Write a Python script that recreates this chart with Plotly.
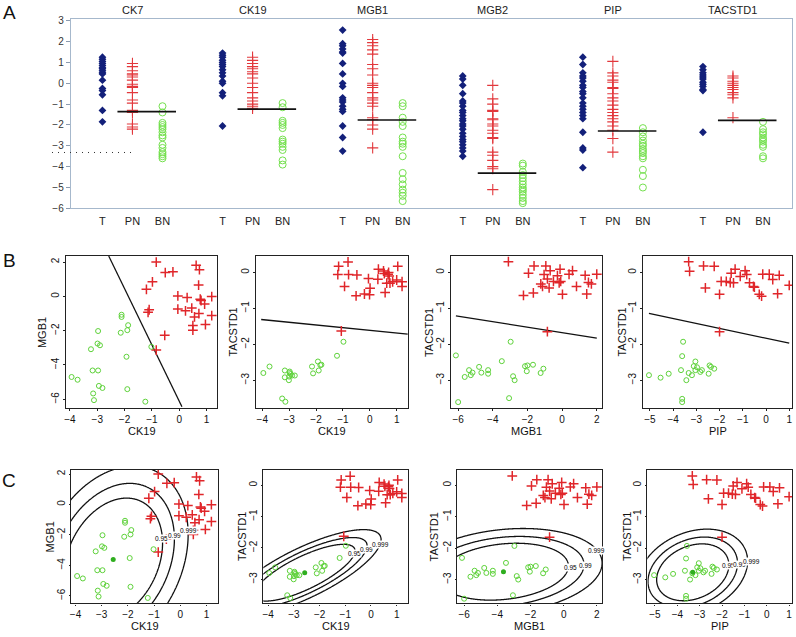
import numpy as np
import plotly.graph_objects as go

W, H = 796, 637

# ---------------- panel A: marker levels per gene and group ----------------
genes = ["CK7", "CK19", "MGB1", "MGB2", "PIP", "TACSTD1"]
groups = ["T", "PN", "BN"]

ck7_t = [1.25, 1.15, 1.05, 0.95, 0.85, 0.75, 0.7, 0.6, 0.5, 0.45, 0.15, -0.25, -0.35, -0.55, -1.3, -1.85]
ck7_pn = [0.95, 0.8, 0.6, 0.45, 0.4, 0.3, 0.15, -0.05, -0.15, -0.2, -0.45, -0.8, -0.95, -1.3, -1.4, -1.95, -2.1, -2.2]
ck7_bn = [-1.1, -1.4, -1.9, -2.0, -2.1, -2.2, -2.35, -2.5, -2.6, -2.95, -3.1, -3.3, -3.4, -3.5, -3.6]

ck19_t = [1.45, 1.35, 1.25, 1.1, 1.0, 0.9, 0.8, 0.65, 0.5, 0.35, 0.1, 0.0, -0.45, -0.6, -2.05]
ck19_pn = [1.25, 1.1, 0.95, 0.8, 0.7, 0.55, 0.45, 0.25, 0.0, -0.2, -0.45, -0.7, -0.85, -1.0, -1.1, -1.2]
ck19_bn = [-0.95, -1.15, -1.8, -1.9, -2.0, -2.15, -2.7, -2.8, -2.9, -3.05, -3.2, -3.7, -3.9]

mgb1_t = [2.55, 1.9, 1.8, 1.65, 1.5, 1.45, 0.95, 0.45, 0.0, -0.15, -0.7, -0.8, -0.9, -1.1, -1.25, -1.35, -2.05, -2.6, -3.25]
mgb1_pn = [2.1, 1.95, 1.8, 1.6, 1.4, 0.9, 0.7, 0.4, 0.0, -0.1, -0.2, -0.45, -0.7, -0.8, -0.95, -1.1, -1.65, -1.75, -2.0, -2.2, -3.1]
mgb1_bn = [-0.95, -1.1, -1.65, -1.85, -2.05, -2.6, -2.8, -2.9, -3.05, -3.5, -4.3, -4.6, -4.85, -5.1, -5.25, -5.4, -5.65]

mgb2_t = [0.35, 0.2, -0.1, -0.5, -0.85, -0.95, -1.1, -1.3, -1.4, -1.55, -1.7, -1.8, -1.95, -2.05, -2.2, -2.4, -2.55, -2.7, -2.8, -2.95, -3.1, -3.25, -3.5]
mgb2_pn = [-0.1, -0.75, -1.0, -1.3, -1.35, -1.7, -1.75, -1.95, -2.05, -2.25, -2.4, -2.6, -2.65, -3.3, -3.45, -3.7, -4.0, -4.1, -5.1]
mgb2_bn = [-3.85, -3.95, -4.25, -4.4, -4.55, -4.7, -4.85, -5.0, -5.1, -5.2, -5.35, -5.5, -5.65, -5.75]

pip_t = [1.25, 0.9, 0.5, 0.35, 0.25, 0.1, -0.1, -0.2, -0.4, -0.5, -0.7, -0.95, -1.1, -1.25, -1.4, -1.55, -1.7, -2.35, -3.1, -3.2, -4.05]
pip_pn = [1.05, 0.5, 0.35, 0.15, 0.05, -0.2, -0.25, -0.5, -0.7, -0.85, -1.05, -1.25, -1.4, -1.55, -1.7, -1.85, -2.05, -2.25, -2.65, -3.3]
pip_bn = [-2.15, -2.35, -2.55, -2.75, -2.9, -3.0, -3.15, -3.25, -3.35, -3.5, -3.6, -4.15, -4.45, -5.0]

tacstd1_t = [0.8, 0.65, 0.5, 0.4, 0.3, 0.2, 0.05, -0.05, -0.15, -0.3, -0.35, -2.35]
tacstd1_pn = [0.35, 0.25, 0.1, 0.0, -0.1, -0.2, -0.3, -0.45, -0.55, -0.7, -1.65]
tacstd1_bn = [-1.85, -2.2, -2.35, -2.45, -2.6, -2.7, -2.8, -2.95, -3.05, -3.5, -3.6]

thresholds = [-1.36, -1.24, -1.76, -4.31, -2.29, -1.78]
dotted_level = -3.32          # faint dotted mark at the left of CK7
dotted_span = [-1.68, 1.04]   # in category-position units

a_series = {
    "CK7": (ck7_t, ck7_pn, ck7_bn),
    "CK19": (ck19_t, ck19_pn, ck19_bn),
    "MGB1": (mgb1_t, mgb1_pn, mgb1_bn),
    "MGB2": (mgb2_t, mgb2_pn, mgb2_bn),
    "PIP": (pip_t, pip_pn, pip_bn),
    "TACSTD1": (tacstd1_t, tacstd1_pn, tacstd1_bn),
}

# ---------------- panels B / C: pairs of markers ----------------
pair_labels = [("CK19", "MGB1"), ("CK19", "TACSTD1"), ("MGB1", "TACSTD1"), ("PIP", "TACSTD1")]

p1_pn_x = [-0.84, 0.62, 0.74, -0.51, -0.23, -0.98, -1.2, 0.71, -0.05, 0.29, 0.77, 0.8, 1.19, 0.93, -0.05, 0.23, 0.46, -1.1, -1.14, 0.72, 0.56, 1.19, 0.5, 0.5, 0.96, -0.53, -0.84]
p1_pn_y = [2.0, 1.81, 1.56, 1.39, 1.43, 0.85, 0.41, 0.66, 0.03, -0.07, -0.16, -0.24, -0.01, -0.45, -0.74, -0.84, -0.68, -0.78, -0.93, -1.0, -1.2, -1.12, -1.7, -1.97, -1.64, -2.27, -3.13]
p1_bn_x = [-3.94, -3.72, -3.23, -3.17, -2.97, -3.15, -3.12, -2.97, -2.99, -2.9, -2.94, -2.81, -2.11, -2.11, -2.14, -1.9, -1.87, -1.93, -1.9, -1.02, -1.24]
p1_bn_y = [-4.7, -4.86, -3.08, -4.32, -4.32, -5.66, -6.05, -2.02, -2.75, -2.85, -5.22, -5.34, -1.07, -1.2, -2.12, -1.97, -1.68, -3.52, -5.41, -2.94, -6.14]

p2_pn_x = [-1.16, -0.81, -1.19, -0.79, -0.48, -0.94, -0.51, -0.2, -0.01, 0.01, -0.05, 0.32, 0.51, 0.54, 0.68, 1.04, 0.3, 0.63, 0.75, 0.85, 1.0, 0.57, -1.06, 1.2, 1.2, 0.72, 0.7]
p2_pn_y = [0.17, 0.29, -0.06, -0.06, -0.07, -0.39, -0.65, -0.6, -0.62, -0.44, -0.17, 0.09, 0.04, -0.03, -0.05, 0.17, -0.19, -0.3, -0.3, -0.26, -0.21, -0.56, -1.63, -0.26, -0.39, -0.1, 0.0]
p2_bn_x = [-3.96, -3.73, -3.16, -3.16, -3.01, -2.98, -2.94, -2.89, -2.79, -3.26, -3.14, -2.15, -2.11, -1.93, -1.9, -1.84, -1.8, -1.22, -0.98, -2.98, -3.0]
p2_bn_y = [-2.8, -2.62, -2.73, -2.92, -3.0, -2.76, -2.83, -2.87, -2.87, -3.51, -3.6, -2.62, -2.81, -2.48, -2.73, -2.58, -2.57, -2.32, -1.93, -2.8, -2.9]

p3_pn_x = [-3.1, -1.94, -1.62, -0.94, -0.69, -1.04, -0.85, -1.23, -1.13, -0.75, -0.5, -0.27, -0.17, -0.08, -0.12, 0.02, 0.4, 0.6, 0.83, 1.33, 1.42, 1.52, 1.69, 2.0, -2.23, -1.66, -0.85]
p3_pn_y = [0.3, -0.02, 0.18, 0.18, 0.05, -0.06, -0.18, -0.32, -0.39, -0.43, -0.25, -0.09, -0.29, -0.25, 0.09, -0.61, -0.05, 0.05, -0.39, -0.08, -0.6, -0.28, -0.32, -0.05, -0.64, -0.57, -1.65]
p3_bn_x = [-6.13, -6.0, -5.62, -5.37, -5.27, -5.17, -4.79, -4.66, -4.27, -4.27, -3.48, -2.97, -3.06, -2.83, -2.74, -2.14, -2.0, -2.04, -1.68, -1.24, -1.08]
p3_bn_y = [-2.31, -3.61, -2.91, -2.72, -2.86, -2.79, -2.63, -2.79, -2.72, -2.82, -2.47, -1.93, -3.5, -2.89, -3.0, -2.61, -2.59, -2.75, -2.57, -2.8, -2.68]

p4_pn_x = [-3.33, -3.29, -2.69, -2.23, -2.61, -2.0, -1.93, -1.71, -1.54, -1.4, -1.5, -1.33, -1.11, -0.9, -0.83, -0.71, -0.54, -0.5, -0.29, -0.19, -0.14, 0.14, 0.29, 0.5, 0.57, 1.0, -2.0]
p4_pn_y = [0.3, 0.03, 0.18, 0.17, -0.43, -0.61, -0.25, -0.25, -0.28, -0.29, -0.02, 0.09, -0.11, 0.05, -0.06, -0.29, -0.39, -0.41, -0.61, -0.66, -0.05, -0.05, -0.2, -0.59, -0.08, -0.36, -1.65]
p4_bn_x = [-5.04, -4.54, -4.19, -3.66, -3.57, -3.61, -3.61, -3.61, -3.43, -3.33, -3.19, -3.11, -3.04, -3.04, -2.97, -2.83, -2.76, -2.47, -2.43, -2.37, -2.23]
p4_bn_y = [-2.86, -2.93, -2.82, -2.72, -1.93, -2.33, -3.52, -3.61, -3.0, -2.8, -2.86, -2.61, -2.72, -2.48, -2.64, -2.77, -2.72, -2.82, -2.59, -2.63, -2.68]

# linear boundaries (panel B), endpoints
b_line_x = [[-2.58, 0.1], [-4.04, 1.41], [-6.13, 2.0], [-5.04, 1.0]]
b_line_y = [[2.35, -6.43], [-1.31, -1.72], [-1.21, -1.83], [-1.14, -1.97]]

# BN class ellipse parameters (panel C): mean, sd and correlation
bn_center = [(-2.56, -3.62), (-2.58, -2.79), (-3.63, -2.75), (-3.31, -2.77)]
bn_sd = [(0.77, 1.65), (0.8, 0.37), (1.6, 0.37), (0.66, 0.37)]
bn_rho = [0.27, 0.77, 0.2, 0.26]
levels = [0.95, 0.99, 0.999]
level_text = ["0.95", "0.99", "0.999"]
label_pos = [
    [(-0.72, -2.22), (-0.21, -2.07), (0.32, -1.68)],
    [(-0.65, -2.18), (-0.16, -2.05), (0.38, -1.89)],
    [(0.39, -2.61), (1.33, -2.54), (2.0, -2.09)],
    [(-1.73, -2.56), (-1.2, -2.53), (-0.66, -2.44)],
]

pn_x = [p1_pn_x, p2_pn_x, p3_pn_x, p4_pn_x]
pn_y = [p1_pn_y, p2_pn_y, p3_pn_y, p4_pn_y]
bn_x = [p1_bn_x, p2_bn_x, p3_bn_x, p4_bn_x]
bn_y = [p1_bn_y, p2_bn_y, p3_bn_y, p4_bn_y]

x_ticks = [[-4, -3, -2, -1, 0, 1], [-4, -3, -2, -1, 0, 1], [-6, -4, -2, 0, 2], [-5, -4, -3, -2, -1, 0, 1]]
y_ticks = [[2, 0, -2, -4, -6], [0, -1, -2, -3], [0, -1, -2, -3], [0, -1, -2, -3]]

# ---------------- layout geometry (pixels) ----------------
def dx(a, b):
    return [a / W, b / W]

def dy(top, bot):
    return [1 - bot / H, 1 - top / H]

A_X0, A_DX = 100.7, 30.1          # pixel of position 0, pixels per position
A_LEFT, A_RIGHT, A_TOP, A_BOT = 69, 792, 15.7, 207.3

b_box = [(64, 216), (255, 407), (450, 602), (643, 792)]
c_box = [(69, 217), (262, 407), (456, 602), (647, 792)]
B_TOP, B_BOT = 255.7, 410
C_TOP, C_BOT = 472.3, 608
b_xr = [[-4.15, 1.4], [-4.22, 1.42], [-6.42, 2.33], [-5.28, 1.12]]
b_yr = [[-6.52, 2.35], [-3.78, 0.455], [-3.78, 0.455], [-3.78, 0.455]]
c_xr = [[-4.18, 1.46], [-4.19, 1.44], [-6.44, 2.34], [-5.34, 1.13]]
c_yr = [[-6.5, 2.29], [-3.77, 0.5], [-3.76, 0.5], [-3.76, 0.5]]

NAVY = "#13207a"
RED_A = "#e2383c"
GREEN_A = "#74e04e"
RED = "#e0262a"
GREEN = "#5ed23a"
FONT = "Liberation Sans, Arial, sans-serif"

fig = go.Figure()

# ---- panel A traces
for g, gene in enumerate(genes):
    t, pn, bn = a_series[gene]
    base = g * 4
    fig.add_trace(go.Scatter(x=[base] * len(t), y=t, mode="markers",
                             marker=dict(symbol="diamond", size=6, color=NAVY)))
    fig.add_trace(go.Scatter(x=[base + 1] * len(pn), y=pn, mode="markers",
                             marker=dict(symbol="cross-thin", size=8, color=RED_A,
                                         line=dict(width=1.1, color=RED_A))))
    fig.add_trace(go.Scatter(x=[base + 2] * len(bn), y=bn, mode="markers",
                             marker=dict(symbol="circle-open", size=7, color=GREEN_A,
                                         line=dict(width=1, color=GREEN_A))))

seg_x, seg_y = [], []
for g, t in enumerate(thresholds):
    seg_x += [g * 4 + 0.5, g * 4 + 2.45, None]
    seg_y += [t, t, None]
fig.add_trace(go.Scatter(x=seg_x, y=seg_y, mode="lines", line=dict(color="#111111", width=1.6)))

fig.add_trace(go.Scatter(x=dotted_span, y=[dotted_level] * 2, mode="lines", xaxis="x10", yaxis="y",
                         line=dict(color="#333333", width=1, dash="1px,5px")))

# ---- panels B and C
for i in range(4):
    xb, yb = f"x{i + 2}", f"y{i + 2}"
    xc, yc = f"x{i + 6}", f"y{i + 6}"
    fig.add_trace(go.Scatter(x=b_line_x[i], y=b_line_y[i], mode="lines", xaxis=xb, yaxis=yb,
                             line=dict(color="#111111", width=1.3)))
    # contours of the BN class model
    cx, cy = bn_center[i]
    sx, sy = bn_sd[i]
    r = bn_rho[i]
    gx = np.linspace(c_xr[i][0] - 0.5, c_xr[i][1] + 0.5, 260)
    gy = np.linspace(c_yr[i][0] - 0.5, c_yr[i][1] + 0.5, 260)
    X, Y = np.meshgrid(gx, gy)
    u, v = (X - cx) / sx, (Y - cy) / sy
    d2 = (u * u - 2 * r * u * v + v * v) / (1 - r * r)
    for lev in levels:
        q = -2 * np.log(1 - lev)
        fig.add_trace(go.Contour(x=gx, y=gy, z=d2, xaxis=xc, yaxis=yc, showscale=False,
                                 autocontour=False,
                                 contours=dict(start=q, end=q + 1e-3, size=1, coloring="lines"),
                                 colorscale=[[0, "#111111"], [1, "#111111"]],
                                 line=dict(width=1.3), hoverinfo="skip"))
    for xa, ya in ((xb, yb), (xc, yc)):
        fig.add_trace(go.Scatter(x=pn_x[i], y=pn_y[i], mode="markers", xaxis=xa, yaxis=ya,
                                 marker=dict(symbol="cross-thin", size=7, color=RED,
                                             line=dict(width=1.5, color=RED))))
        fig.add_trace(go.Scatter(x=bn_x[i], y=bn_y[i], mode="markers", xaxis=xa, yaxis=ya,
                                 marker=dict(symbol="circle-open", size=5, color=GREEN,
                                             line=dict(width=1, color=GREEN))))
    fig.add_trace(go.Scatter(x=[cx], y=[cy], mode="markers", xaxis=xc, yaxis=yc,
                             marker=dict(symbol="circle", size=5, color="#2fae1f")))

# ---------------- axes ----------------
A_LINE = "#a6b8cc"
layout = dict(
    width=W, height=H, margin=dict(l=0, r=0, t=0, b=0),
    paper_bgcolor="white", plot_bgcolor="rgba(0,0,0,0)",
    showlegend=False, font=dict(family=FONT, color="#111111"),
)
a_range_x = [(A_LEFT - A_X0) / A_DX, (A_RIGHT - A_X0) / A_DX]
layout["xaxis"] = dict(domain=dx(A_LEFT, A_RIGHT), range=a_range_x, anchor="y",
                       tickvals=[g * 4 + k for g in range(6) for k in range(3)],
                       ticktext=groups * 6, ticks="outside", ticklen=2, tickcolor="rgba(0,0,0,0)",
                       tickfont=dict(size=11, color="#222222"),
                       showline=True, linecolor=A_LINE, linewidth=1.2, mirror=True,
                       showgrid=False, zeroline=False)
layout["yaxis"] = dict(domain=dy(A_TOP, A_BOT), range=[-6, 3.06], anchor="x",
                       tickvals=list(range(-6, 4)), ticks="outside", ticklen=4, tickcolor="#8a9bb0",
                       tickfont=dict(size=10, color="#333333"),
                       showline=True, linecolor=A_LINE, linewidth=1.2, mirror=True,
                       showgrid=False, zeroline=False)
layout["xaxis10"] = dict(domain=dx(45, A_RIGHT), range=[(45 - A_X0) / A_DX, a_range_x[1]],
                         anchor="y", visible=False)

box_style = dict(showline=True, linecolor="#222222", linewidth=1.3, mirror=True,
                 showgrid=False, zeroline=False, tickcolor="#222222",
                 tickfont=dict(size=10, color="#111111"))
for i in range(4):
    for row, (boxes, xr, yr, top, bot, ticklen) in enumerate(
            [(b_box, b_xr, b_yr, B_TOP, B_BOT, 2), (c_box, c_xr, c_yr, C_TOP, C_BOT, 1)]):
        n = i + 2 + 4 * row
        layout[f"xaxis{n}"] = dict(domain=dx(*boxes[i]), range=xr[i], anchor=f"y{n}",
                                   tickvals=x_ticks[i], ticks="outside", ticklen=ticklen, **box_style)
        layout[f"yaxis{n}"] = dict(domain=dy(top, bot), range=yr[i], anchor=f"x{n}",
                                   tickvals=y_ticks[i], ticks="outside", ticklen=ticklen,
                                   tickangle=-90, **box_style)

fig.update_layout(**layout)

# ---------------- text ----------------
ann = []
for g, gene in enumerate(genes):
    ann.append(dict(text=gene, x=g * 4 + 1, xref="x", y=1 - 6 / H, yref="paper",
                    xanchor="center", yanchor="middle",
                    showarrow=False, font=dict(size=11, color="#222222")))
for letter, ypx in (("A", 9), ("B", 260), ("C", 483.5)):
    ann.append(dict(text=letter, x=7.5 / W, y=1 - ypx / H, xref="paper", yref="paper",
                    xanchor="center", yanchor="middle",
                    showarrow=False, font=dict(size=19, color="#111111")))

b_ytitle_x = [40, 232, 428, 622]
c_ytitle_x = [48, 240, 433, 626]
for i, (xl, yl) in enumerate(pair_labels):
    for boxes, top, bot, xt_y, yt_x in ((b_box, B_TOP, B_BOT, 433, b_ytitle_x[i]),
                                        (c_box, C_TOP, C_BOT, 631, c_ytitle_x[i])):
        l, r = boxes[i]
        ann.append(dict(text=xl, x=(l + r) / 2 / W, y=1 - xt_y / H, xref="paper", yref="paper",
                        xanchor="center", yanchor="middle",
                        showarrow=False, font=dict(size=11)))
        ann.append(dict(text=yl, x=yt_x / W, y=1 - (top + bot) / 2 / H, xref="paper", yref="paper",
                        xanchor="center", yanchor="middle",
                        showarrow=False, textangle=-90, font=dict(size=11)))
    for (lx, ly), txt in zip(label_pos[i], level_text):
        ann.append(dict(text=txt, x=lx, y=ly, xref=f"x{i + 6}", yref=f"y{i + 6}",
                        showarrow=False, font=dict(size=6.5, color="#000000"),
                        bgcolor="white", borderpad=0))

fig.update_layout(annotations=ann)
# the page's default 8px body margin would shift the figure off the window
fig.write_html("out.html", config={"displayModeBar": False},
               post_script="document.body.style.margin='0';")
